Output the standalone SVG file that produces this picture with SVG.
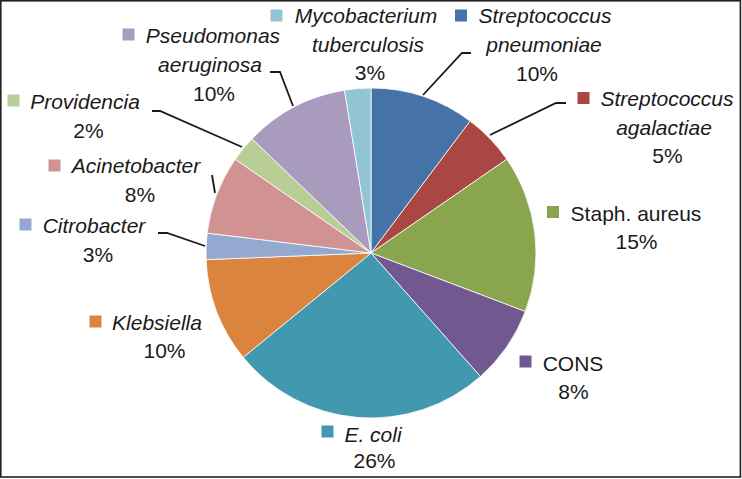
<svg xmlns="http://www.w3.org/2000/svg" width="742" height="479" viewBox="0 0 742 479">
<style>
.t{font-family:"Liberation Sans",Arial,sans-serif;font-size:21px;fill:#1a1a1a;text-anchor:middle}
.i{font-style:italic}
.s{stroke:#fff;stroke-width:0.8}
.l{fill:none;stroke:#1a1a1a;stroke-width:1.8}
</style>
<rect x="0" y="0" width="742" height="479" fill="#fff"/>
<rect x="0.8" y="0.8" width="739.6" height="476.2" fill="none" stroke="#222" stroke-width="1.6"/>
<g id="strep-pneumoniae">
<path class="s" fill="#4572A7" d="M371,253 L371,88 A165,165 0 0 1 470.12,121.08 Z"/>
<rect x="455" y="9.5" width="12" height="12" fill="#4572A7"/>
<text class="t i" x="545" y="22.5">Streptococcus</text>
<text class="t i" x="544" y="52">pneumoniae</text>
<text class="t" x="537" y="81">10%</text>
</g>
<g id="strep-agalactiae">
<path class="s" fill="#AA4643" d="M371,253 L470.12,121.08 A165,165 0 0 1 506.80,159.26 Z"/>
<rect x="577.5" y="92" width="12" height="12" fill="#AA4643"/>
<text class="t i" x="667" y="106">Streptococcus</text>
<text class="t i" x="664" y="135">agalactiae</text>
<text class="t" x="667.5" y="163">5%</text>
</g>
<g id="staph-aureus">
<path class="s" fill="#89A54E" d="M371,253 L506.80,159.26 A165,165 0 0 1 525.28,311.51 Z"/>
<rect x="547" y="206" width="12" height="12" fill="#89A54E"/>
<text class="t" x="636" y="220.5">Staph. aureus</text>
<text class="t" x="636.5" y="249">15%</text>
</g>
<g id="cons">
<path class="s" fill="#71588F" d="M371,253 L525.28,311.51 A165,165 0 0 1 480.41,376.50 Z"/>
<rect x="519.5" y="355.5" width="12" height="12" fill="#71588F"/>
<text class="t" x="573" y="371">CONS</text>
<text class="t" x="573.5" y="399">8%</text>
</g>
<g id="e-coli">
<path class="s" fill="#4198AF" d="M371,253 L480.41,376.50 A165,165 0 0 1 243.19,357.35 Z"/>
<rect x="321.5" y="425.5" width="12" height="12" fill="#4198AF"/>
<text class="t i" x="373" y="442">E. coli</text>
<text class="t" x="374.5" y="468">26%</text>
</g>
<g id="klebsiella">
<path class="s" fill="#DB843D" d="M371,253 L243.19,357.35 A165,165 0 0 1 206.13,259.65 Z"/>
<rect x="89.5" y="315.5" width="12" height="12" fill="#DB843D"/>
<text class="t i" x="157" y="330">Klebsiella</text>
<text class="t" x="164.5" y="358">10%</text>
</g>
<g id="citrobacter">
<path class="s" fill="#93A9CF" d="M371,253 L206.13,259.65 A165,165 0 0 1 207.20,233.12 Z"/>
<rect x="19.5" y="218.5" width="12" height="12" fill="#93A9CF"/>
<text class="t i" x="94" y="233">Citrobacter</text>
<text class="t" x="98" y="262">3%</text>
</g>
<g id="acinetobacter">
<path class="s" fill="#D19392" d="M371,253 L207.20,233.12 A165,165 0 0 1 235.20,159.26 Z"/>
<rect x="48.5" y="159.5" width="12" height="12" fill="#D19392"/>
<text class="t i" x="136" y="173">Acinetobacter</text>
<text class="t" x="140" y="202">8%</text>
</g>
<g id="providencia">
<path class="s" fill="#B9CD96" d="M371,253 L235.20,159.26 A165,165 0 0 1 251.99,138.72 Z"/>
<rect x="7.5" y="94.5" width="12" height="12" fill="#B9CD96"/>
<text class="t i" x="85" y="109">Providencia</text>
<text class="t" x="88.5" y="138">2%</text>
</g>
<g id="pseudomonas">
<path class="s" fill="#A99BBD" d="M371,253 L251.99,138.72 A165,165 0 0 1 344.53,90.13 Z"/>
<rect x="122.5" y="28.5" width="12" height="12" fill="#A99BBD"/>
<text class="t i" x="213" y="43">Pseudomonas</text>
<text class="t i" x="210" y="72">aeruginosa</text>
<text class="t" x="214" y="101">10%</text>
</g>
<g id="mycobacterium">
<path class="s" fill="#92C5D4" d="M371,253 L344.53,90.13 A165,165 0 0 1 371,88 Z"/>
<rect x="270.5" y="9.5" width="12" height="12" fill="#92C5D4"/>
<text class="t i" x="366" y="22.5">Mycobacterium</text>
<text class="t i" x="368" y="51.5">tuberculosis</text>
<text class="t" x="370" y="80">3%</text>
</g>
<g id="connectors">
<polyline class="l" points="423,95 462,53 471,53"/>
<polyline class="l" points="490,135 556,103 566,103"/>
<polyline class="l" points="293,106 280,72 270,72"/>
<polyline class="l" points="242,147 160,111 152,111"/>
<polyline class="l" points="215,193 212,175"/>
<polyline class="l" points="205,246 167,233 158,233"/>
</g>
</svg>
